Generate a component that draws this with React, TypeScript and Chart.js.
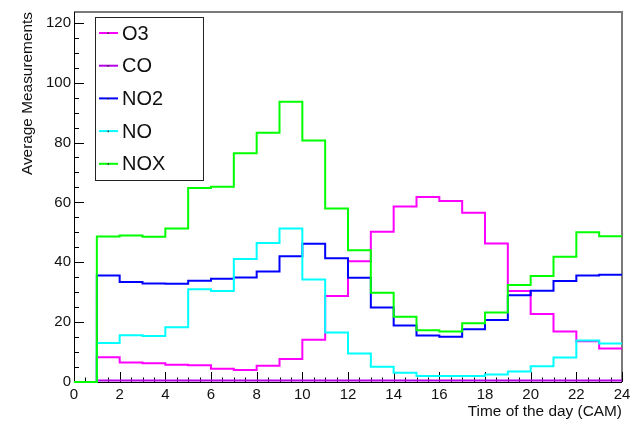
import React, { useEffect, useRef } from "react";
import { Chart, registerables } from "chart.js";

Chart.register(...registerables);

// Hourly bins 0..23 (bin h spans [h, h+1])
const HOURS = [0, 1, 2, 3, 4, 5, 6, 7, 8, 9, 10, 11, 12, 13, 14, 15, 16, 17, 18, 19, 20, 21, 22, 23];
const O3 = [0, 8.3, 6.5, 6.3, 5.8, 5.6, 4.4, 4.0, 5.4, 7.7, 14.1, 28.7, 40.3, 50.2, 58.6, 61.8, 60.5, 56.5, 46.3, 30.4, 22.7, 16.9, 13.6, 11.2];
const CO = [0, 0.5, 0.5, 0.5, 0.5, 0.5, 0.5, 0.5, 0.5, 0.5, 0.5, 0.5, 0.5, 0.5, 0.5, 0.5, 0.5, 0.5, 0.5, 0.5, 0.5, 0.5, 0.5, 0.5];
const NO2 = [0, 35.6, 33.4, 32.9, 32.8, 33.8, 34.5, 34.9, 36.9, 42.0, 46.2, 41.3, 34.8, 24.9, 18.9, 15.5, 15.1, 17.6, 20.7, 29.0, 30.5, 33.7, 35.6, 35.8];
const NO = [0, 13.0, 15.6, 15.4, 18.3, 31.0, 30.4, 41.1, 46.4, 51.3, 34.2, 16.5, 9.5, 5.1, 3.1, 2.0, 2.0, 2.0, 2.5, 3.5, 5.3, 8.2, 13.9, 12.9];
const NOX = [0, 48.6, 48.9, 48.5, 51.3, 64.8, 65.2, 76.4, 83.3, 93.6, 80.7, 58.0, 44.0, 29.8, 21.8, 17.3, 16.9, 19.6, 23.2, 32.4, 35.4, 41.8, 50.0, 48.7];

const SERIES_NAMES = ["O3", "CO", "NO2", "NO", "NOX"];
const SERIES_COLORS = ["#ff00ff", "#b400e6", "#0000ff", "#00ffff", "#00ff00"];

const X_MIN = 0;
const X_MAX = 24;
const Y_MIN = 0;
const Y_MAX = 123.6;
const Y_TICKS = [0, 20, 40, 60, 80, 100, 120];
const X_TITLE = "Time of the day (CAM)";
const Y_TITLE = "Average Measurements";

const FONT = "'Liberation Sans', Arial, Helvetica, sans-serif";

function toSteps(values: number[]) {
  const pts = HOURS.map((h, i) => ({ x: h, y: values[i] }));
  pts.push({ x: HOURS[HOURS.length - 1] + 1, y: values[values.length - 1] });
  return pts;
}

const rootStylePlugin = {
  id: "rootStyle",
  beforeDatasetsDraw(chart: any) {
    const ctx = chart.ctx as CanvasRenderingContext2D;
    const area = chart.chartArea;
    const xs = chart.scales.x;
    const ys = chart.scales.y;
    ctx.save();

    // frame: gray top/right
    ctx.strokeStyle = "#7a7a7a";
    ctx.lineWidth = 2;
    ctx.beginPath();
    ctx.moveTo(area.left, area.top);
    ctx.lineTo(area.right, area.top);
    ctx.lineTo(area.right, area.bottom);
    ctx.stroke();

    // axes black
    ctx.strokeStyle = "#000";
    ctx.lineWidth = 1;
    ctx.beginPath();
    ctx.moveTo(area.left + 0.5, area.top);
    ctx.lineTo(area.left + 0.5, area.bottom + 0.5);
    ctx.lineTo(area.right, area.bottom + 0.5);
    ctx.stroke();

    // x ticks (inward)
    ctx.beginPath();
    for (let v = X_MIN; v <= X_MAX + 1e-9; v += 0.5) {
      const px = Math.round(xs.getPixelForValue(v)) + 0.5;
      const major = Math.abs(v / 2 - Math.round(v / 2)) < 1e-9;
      const len = major ? 10 : 4.5;
      ctx.moveTo(px, area.bottom);
      ctx.lineTo(px, area.bottom - len);
    }
    // y ticks (inward)
    for (let v = Y_MIN; v <= Y_MAX + 1e-9; v += 5) {
      const py = Math.round(ys.getPixelForValue(v)) + 0.5;
      const major = v % 20 === 0;
      const len = major ? 10 : 5;
      ctx.moveTo(area.left, py);
      ctx.lineTo(area.left + len, py);
    }
    ctx.stroke();
    ctx.restore();
  },
  afterDraw(chart: any) {
    const ctx = chart.ctx as CanvasRenderingContext2D;
    const area = chart.chartArea;
    ctx.save();

    // axis titles
    ctx.fillStyle = "#111";
    ctx.font = `15.4px ${FONT}`;
    ctx.textAlign = "right";
    ctx.textBaseline = "alphabetic";
    ctx.fillText(X_TITLE, area.right, 416);

    ctx.save();
    ctx.translate(32, area.top);
    ctx.rotate(-Math.PI / 2);
    ctx.textAlign = "right";
    ctx.fillText(Y_TITLE, 0, 0);
    ctx.restore();

    // legend
    const lx = 95.5, ly = 17.5, lw = 108, lh = 163;
    ctx.fillStyle = "#fff";
    ctx.fillRect(lx, ly, lw, lh);
    ctx.strokeStyle = "#222";
    ctx.lineWidth = 1;
    ctx.strokeRect(lx, ly, lw, lh);
    const ds = chart.data.datasets;
    ctx.font = `20px ${FONT}`;
    ctx.textAlign = "left";
    ctx.textBaseline = "middle";
    for (let i = 0; i < ds.length; i++) {
      const cy = 33 + i * 32.7;
      const color = ds[i].borderColor;
      ctx.strokeStyle = color;
      ctx.lineWidth = 2;
      ctx.beginPath();
      ctx.moveTo(99, cy);
      ctx.lineTo(118, cy);
      ctx.stroke();
      ctx.fillStyle = "#333";
      ctx.fillRect(107.5, cy - 0.5, 1.5, 1.5);
      ctx.fillStyle = "#111";
      ctx.fillText(ds[i].label, 122, cy + 1);
    }
    ctx.restore();
  },
};

export default function App() {
  const canvasRef = useRef<HTMLCanvasElement | null>(null);

  useEffect(() => {
    const canvas = canvasRef.current;
    if (!canvas) return;
    const seriesValues = [O3, CO, NO2, NO, NOX];
    const chart = new Chart(canvas, {
      type: "line",
      data: {
        datasets: seriesValues.map((vals, i) => ({
          label: SERIES_NAMES[i],
          data: toSteps(vals),
          borderColor: SERIES_COLORS[i],
          backgroundColor: SERIES_COLORS[i],
          borderWidth: 2,
          stepped: true,
          pointRadius: 0,
          fill: false,
          clip: 2,
          order: seriesValues.length - 1 - i,
        })),
      },
      options: {
        animation: false,
        responsive: true,
        maintainAspectRatio: false,
        parsing: false as any,
        layout: { padding: { top: 8, right: 13, left: 0, bottom: 0 } },
        plugins: {
          legend: { display: false },
          tooltip: { enabled: false },
        },
        scales: {
          x: {
            type: "linear",
            min: X_MIN,
            max: X_MAX,
            grid: { display: false, drawTicks: false },
            border: { display: false },
            ticks: {
              stepSize: 2,
              color: "#111",
              padding: 4,
              maxRotation: 0,
              autoSkip: false,
              font: { family: FONT, size: 15 },
            },
            afterFit: (scale: any) => {
              scale.height = 40;
            },
          },
          y: {
            type: "linear",
            min: Y_MIN,
            max: Y_MAX,
            grid: { display: false, drawTicks: false },
            border: { display: false },
            ticks: {
              stepSize: 20,
              color: "#111",
              padding: 3,
              autoSkip: false,
              font: { family: FONT, size: 15 },
            },
            afterBuildTicks: (scale: any) => {
              scale.ticks = Y_TICKS.map((v) => ({ value: v }));
            },
            afterFit: (scale: any) => {
              scale.width = 74;
            },
          },
        },
      },
      plugins: [rootStylePlugin],
    });
    return () => chart.destroy();
  }, []);

  return (
    <div style={{ position: "fixed", left: 0, top: 0, width: 635, height: 422, background: "#fff" }}>
      <canvas ref={canvasRef} />
    </div>
  );
}
